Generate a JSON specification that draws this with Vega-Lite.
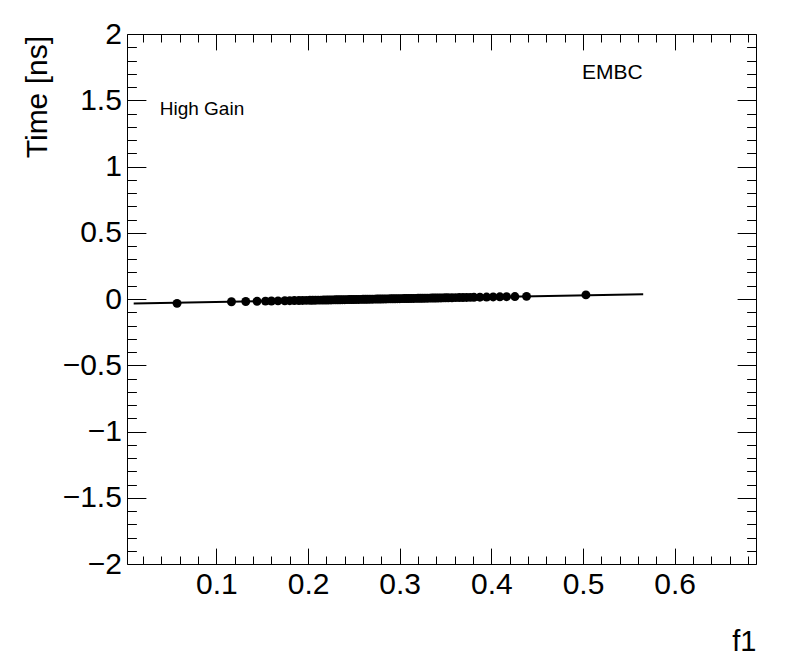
{
  "$schema": "https://vega.github.io/schema/vega-lite/v6.json",
  "width": 629,
  "height": 530,
  "autosize": {"type": "none"},
  "padding": {"left": 127, "top": 34, "right": 40, "bottom": 108},
  "background": "white",
  "config": {
    "view": {"stroke": "black", "strokeWidth": 1},
    "axis": {
      "grid": false,
      "domain": false,
      "tickColor": "black",
      "tickWidth": 1,
      "labelColor": "black",
      "titleColor": "black",
      "labelFont": "Liberation Sans",
      "titleFont": "Liberation Sans",
      "labelFontWeight": "normal",
      "titleFontWeight": "normal",
      "labelFlush": false,
      "labelOverlap": false
    },
    "text": {"font": "Liberation Sans"}
  },
  "datasets": {
    "points": [
      {"f1": 0.057, "time": -0.033},
      {"f1": 0.1164, "time": -0.021},
      {"f1": 0.132, "time": -0.0186},
      {"f1": 0.1443, "time": -0.017},
      {"f1": 0.1535, "time": -0.0159},
      {"f1": 0.16, "time": -0.0151},
      {"f1": 0.1672, "time": -0.0142},
      {"f1": 0.1746, "time": -0.0132},
      {"f1": 0.18, "time": -0.0125},
      {"f1": 0.185, "time": -0.0119},
      {"f1": 0.19, "time": -0.0113},
      {"f1": 0.194, "time": -0.0108},
      {"f1": 0.198, "time": -0.0103},
      {"f1": 0.202, "time": -0.0098},
      {"f1": 0.205, "time": -0.0094},
      {"f1": 0.208, "time": -0.009},
      {"f1": 0.211, "time": -0.0086},
      {"f1": 0.214, "time": -0.0083},
      {"f1": 0.217, "time": -0.0079},
      {"f1": 0.22, "time": -0.0075},
      {"f1": 0.2225, "time": -0.0072},
      {"f1": 0.225, "time": -0.0069},
      {"f1": 0.2275, "time": -0.0066},
      {"f1": 0.23, "time": -0.0062},
      {"f1": 0.2325, "time": -0.0059},
      {"f1": 0.235, "time": -0.0056},
      {"f1": 0.2375, "time": -0.0053},
      {"f1": 0.24, "time": -0.005},
      {"f1": 0.2425, "time": -0.0047},
      {"f1": 0.245, "time": -0.0044},
      {"f1": 0.2475, "time": -0.004},
      {"f1": 0.25, "time": -0.0037},
      {"f1": 0.2525, "time": -0.0034},
      {"f1": 0.255, "time": -0.0031},
      {"f1": 0.2575, "time": -0.0028},
      {"f1": 0.26, "time": -0.0025},
      {"f1": 0.2625, "time": -0.0022},
      {"f1": 0.265, "time": -0.0018},
      {"f1": 0.2675, "time": -0.0015},
      {"f1": 0.27, "time": -0.0012},
      {"f1": 0.2725, "time": -0.0009},
      {"f1": 0.275, "time": -0.0006},
      {"f1": 0.2775, "time": -0.0003},
      {"f1": 0.28, "time": 0.0001},
      {"f1": 0.2825, "time": 0.0004},
      {"f1": 0.285, "time": 0.0007},
      {"f1": 0.2875, "time": 0.001},
      {"f1": 0.29, "time": 0.0013},
      {"f1": 0.2925, "time": 0.0016},
      {"f1": 0.295, "time": 0.0019},
      {"f1": 0.2975, "time": 0.0023},
      {"f1": 0.3, "time": 0.0026},
      {"f1": 0.3025, "time": 0.0029},
      {"f1": 0.305, "time": 0.0032},
      {"f1": 0.3075, "time": 0.0035},
      {"f1": 0.31, "time": 0.0038},
      {"f1": 0.3125, "time": 0.0041},
      {"f1": 0.315, "time": 0.0045},
      {"f1": 0.3175, "time": 0.0048},
      {"f1": 0.32, "time": 0.0051},
      {"f1": 0.3225, "time": 0.0054},
      {"f1": 0.325, "time": 0.0057},
      {"f1": 0.3275, "time": 0.006},
      {"f1": 0.33, "time": 0.0063},
      {"f1": 0.3325, "time": 0.0067},
      {"f1": 0.335, "time": 0.007},
      {"f1": 0.3375, "time": 0.0073},
      {"f1": 0.34, "time": 0.0076},
      {"f1": 0.3425, "time": 0.0079},
      {"f1": 0.345, "time": 0.0082},
      {"f1": 0.3475, "time": 0.0085},
      {"f1": 0.35, "time": 0.0089},
      {"f1": 0.353, "time": 0.0092},
      {"f1": 0.357, "time": 0.0097},
      {"f1": 0.361, "time": 0.0102},
      {"f1": 0.365, "time": 0.0107},
      {"f1": 0.369, "time": 0.0113},
      {"f1": 0.373, "time": 0.0118},
      {"f1": 0.377, "time": 0.0123},
      {"f1": 0.381, "time": 0.0128},
      {"f1": 0.3875, "time": 0.0136},
      {"f1": 0.3948, "time": 0.0145},
      {"f1": 0.402, "time": 0.0154},
      {"f1": 0.4093, "time": 0.0163},
      {"f1": 0.4166, "time": 0.0173},
      {"f1": 0.4257, "time": 0.0184},
      {"f1": 0.4384, "time": 0.02},
      {"f1": 0.5032, "time": 0.031}
    ],
    "fit": [
      {"f1": 0.0097, "time": -0.034},
      {"f1": 0.5657, "time": 0.036}
    ],
    "label1": [{"f1": 0.0381, "time": 1.385, "text": "High Gain"}],
    "label2": [{"f1": 0.4988, "time": 1.662, "text": "EMBC"}]
  },
  "layer": [
    {
      "data": {"name": "points"},
      "mark": {"type": "point", "filled": true, "shape": "circle", "size": 80, "color": "black", "opacity": 1},
      "encoding": {
        "x": {
          "field": "f1", "type": "quantitative",
          "scale": {"domain": [0.0024, 0.6888], "nice": false, "zero": false},
          "axis": {
            "orient": "bottom",
            "values": [0.1, 0.2, 0.3, 0.4, 0.5, 0.6],
            "tickSize": -15.9,
            "labelPadding": 21.5,
            "labelFontSize": 30,
            "format": "~g",
            "title": "f1",
            "titleFontSize": 29,
            "titleAngle": 0,
            "titleAlign": "right",
            "titleBaseline": "alphabetic",
            "titleX": 629,
            "titleY": 86
          }
        },
        "y": {
          "field": "time", "type": "quantitative",
          "scale": {"domain": [-2, 2], "nice": false, "zero": false},
          "axis": {
            "orient": "left",
            "values": [-2, -1.5, -1, -0.5, 0, 0.5, 1, 1.5, 2],
            "tickSize": -18.9,
            "labelPadding": 24.5,
            "labelFontSize": 30,
            "format": "~g",
            "title": "Time [ns]",
            "titleFontSize": 30,
            "titleAngle": -90,
            "titleAlign": "right",
            "titleBaseline": "alphabetic",
            "titleX": -81,
            "titleY": 1.5
          }
        }
      }
    },
    {
      "data": {"name": "fit"},
      "mark": {"type": "line", "color": "black", "strokeWidth": 2},
      "encoding": {
        "x": {
          "field": "f1", "type": "quantitative",
          "scale": {"domain": [0.0024, 0.6888], "nice": false, "zero": false},
          "axis": {"orient": "top", "values": [0.1, 0.2, 0.3, 0.4, 0.5, 0.6], "tickSize": -15.9, "labels": false, "title": null}
        },
        "y": {
          "field": "time", "type": "quantitative",
          "scale": {"domain": [-2, 2], "nice": false, "zero": false},
          "axis": {"orient": "right", "values": [-2, -1.5, -1, -0.5, 0, 0.5, 1, 1.5, 2], "tickSize": -18.9, "labels": false, "title": null}
        }
      }
    },
    {
      "data": {"name": "label1"},
      "mark": {"type": "text", "align": "left", "baseline": "alphabetic", "fontSize": 19, "color": "black"},
      "encoding": {
        "text": {"field": "text"},
        "x": {
          "field": "f1", "type": "quantitative",
          "scale": {"domain": [0.0024, 0.6888], "nice": false, "zero": false},
          "axis": {"orient": "bottom", "values": [0.02, 0.04, 0.06, 0.08, 0.12, 0.14, 0.16, 0.18, 0.22, 0.24, 0.26, 0.28, 0.32, 0.34, 0.36, 0.38, 0.42, 0.44, 0.46, 0.48, 0.52, 0.54, 0.56, 0.58, 0.62, 0.64, 0.66, 0.68], "tickSize": -8, "labels": false, "title": null}
        },
        "y": {
          "field": "time", "type": "quantitative",
          "scale": {"domain": [-2, 2], "nice": false, "zero": false},
          "axis": {"orient": "left", "values": [-1.9, -1.8, -1.7, -1.6, -1.4, -1.3, -1.2, -1.1, -0.9, -0.8, -0.7, -0.6, -0.4, -0.3, -0.2, -0.1, 0.1, 0.2, 0.3, 0.4, 0.6, 0.7, 0.8, 0.9, 1.1, 1.2, 1.3, 1.4, 1.6, 1.7, 1.8, 1.9], "tickSize": -9.4, "labels": false, "title": null}
        }
      }
    },
    {
      "data": {"name": "label2"},
      "mark": {"type": "text", "align": "left", "baseline": "alphabetic", "fontSize": 21, "color": "black"},
      "encoding": {
        "text": {"field": "text"},
        "x": {
          "field": "f1", "type": "quantitative",
          "scale": {"domain": [0.0024, 0.6888], "nice": false, "zero": false},
          "axis": {"orient": "top", "values": [0.02, 0.04, 0.06, 0.08, 0.12, 0.14, 0.16, 0.18, 0.22, 0.24, 0.26, 0.28, 0.32, 0.34, 0.36, 0.38, 0.42, 0.44, 0.46, 0.48, 0.52, 0.54, 0.56, 0.58, 0.62, 0.64, 0.66, 0.68], "tickSize": -8, "labels": false, "title": null}
        },
        "y": {
          "field": "time", "type": "quantitative",
          "scale": {"domain": [-2, 2], "nice": false, "zero": false},
          "axis": {"orient": "right", "values": [-1.9, -1.8, -1.7, -1.6, -1.4, -1.3, -1.2, -1.1, -0.9, -0.8, -0.7, -0.6, -0.4, -0.3, -0.2, -0.1, 0.1, 0.2, 0.3, 0.4, 0.6, 0.7, 0.8, 0.9, 1.1, 1.2, 1.3, 1.4, 1.6, 1.7, 1.8, 1.9], "tickSize": -9.4, "labels": false, "title": null}
        }
      }
    }
  ]
}
